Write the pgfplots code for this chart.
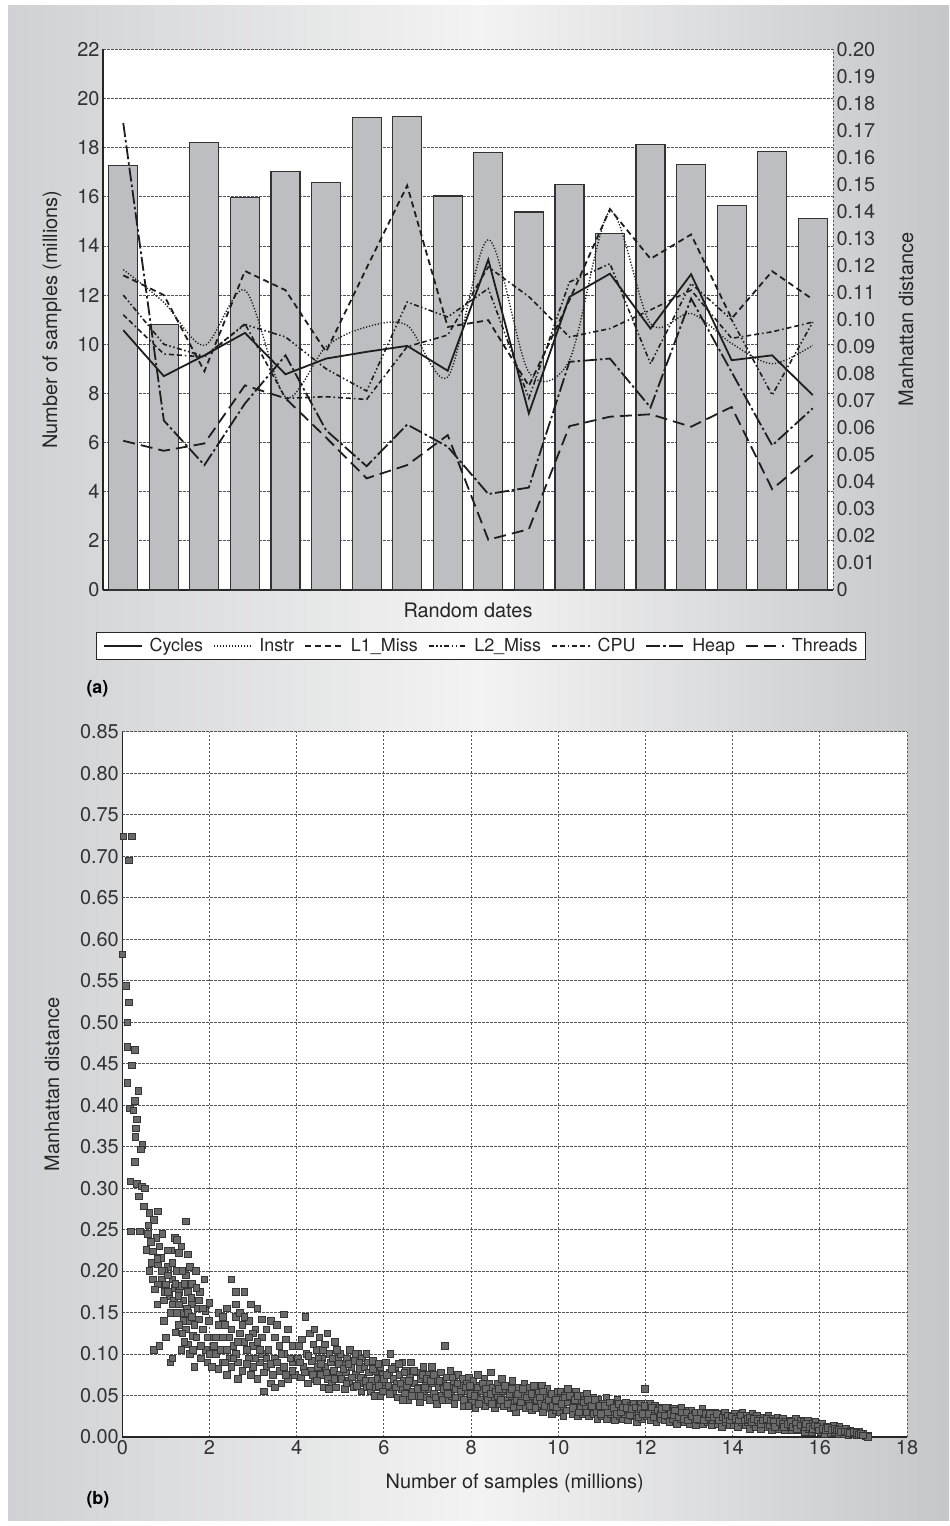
\documentclass[border=0pt]{standalone}
\usepackage{pgfplots}
\pgfplotsset{compat=1.18}
\usepackage{pgfplotstable}
\usepackage{fontspec}
\setmainfont{TeX Gyre Heros}
\definecolor{barfill}{HTML}{BCBEC1}
\definecolor{baredge}{HTML}{333333}
\definecolor{lineclr}{HTML}{1E1E1E}
\definecolor{gridclr}{HTML}{555555}
\definecolor{bgedge}{HTML}{D0D1D4}
\definecolor{bgmid}{HTML}{F3F3F3}
\definecolor{markfill}{HTML}{6A6A6A}
\definecolor{markedge}{HTML}{363636}

\pgfplotstableread{
x Cycles Instr L1 L2 CPU Heap Threads
0 0.0961 0.1185 0.1164 0.1091 0.1018 0.1727 0.0552
1 0.0791 0.1064 0.1091 0.0909 0.0873 0.0627 0.0515
2 0.0868 0.0905 0.0809 0.0864 0.0862 0.0462 0.0542
3 0.0951 0.1109 0.1180 0.0982 0.0985 0.0690 0.0757
4 0.0798 0.0714 0.1109 0.0936 0.0709 0.0868 0.0709
5 0.0856 0.0900 0.0881 0.0818 0.0715 0.0591 0.0564
6 0.0881 0.0973 0.1191 0.0736 0.0705 0.0458 0.0413
7 0.0903 0.0979 0.1496 0.1065 0.0900 0.0612 0.0462
8 0.0811 0.0788 0.0973 0.1010 0.0943 0.0530 0.0573
9 0.1222 0.1296 0.0998 0.1115 0.1195 0.0355 0.0186
10 0.0653 0.0806 0.0755 0.0709 0.1085 0.0379 0.0225
11 0.1084 0.0850 0.1072 0.1139 0.0936 0.0844 0.0606
12 0.1170 0.1400 0.1409 0.1207 0.0967 0.0856 0.0641
13 0.0967 0.0985 0.1225 0.0837 0.1036 0.0675 0.0650
14 0.1168 0.1023 0.1315 0.1134 0.1109 0.1078 0.0604
15 0.0850 0.0912 0.1004 0.1000 0.0931 0.0806 0.0677
16 0.0868 0.0837 0.1179 0.0721 0.0955 0.0535 0.0373
17 0.0721 0.0905 0.1075 0.0991 0.0991 0.0672 0.0499
}\linedata

\begin{document}
\begin{tikzpicture}[x=1bp,y=1bp,font=\fontsize{20}{24}\selectfont]
\fill[white] (0,0) rectangle (949,-1526);
\shade[left color=bgedge, right color=bgedge!95!black, middle color=bgmid] (8,-6) rectangle (949,-1520);

% ---------- (a) bars, left axis ----------
\begin{axis}[
  at={(103bp,-590bp)}, anchor=south west, scale only axis,
  width=730bp, height=540.7bp,
  xmin=-0.5, xmax=17.5, ymin=0, ymax=22,
  ytick={0,2,...,22}, xtick=\empty,
  axis x line*=bottom, axis y line*=left,
  axis line style={-, line width=1.3bp, black!85},
  axis background/.style={fill=white},
  ymajorgrids, grid style={dash pattern=on 2.5bp off 1.5bp, line width=0.8bp, gridclr},
  major tick length=0pt,
  /pgf/number format/assume math mode=true,
  tick label style={font=\fontsize{20}{24}\selectfont, text=black!80},
  xlabel={Random dates},
  xlabel style={at={(axis description cs:0.5,-0.037)}, anchor=center, font=\fontsize{20}{24}\selectfont, text=black!85},
  ylabel={Number of samples (millions)},
  ylabel style={at={(axis description cs:-0.0699,0.5)}, anchor=center, font=\fontsize{20}{24}\selectfont, text=black!85},
]
\addplot[ybar, bar width=29bp, fill=barfill, draw=baredge, line width=1.2bp] coordinates {
(0,17.26) (1,10.81) (2,18.22) (3,15.98) (4,17.02) (5,16.58) (6,19.23) (7,19.28) (8,16.03)
(9,17.79) (10,15.38) (11,16.49) (12,14.50) (13,18.12) (14,17.30) (15,15.65) (16,17.85) (17,15.10)};
\end{axis}

% ---------- (a) lines, right axis ----------
\begin{axis}[
  at={(103bp,-590bp)}, anchor=south west, scale only axis,
  width=730bp, height=540.7bp,
  xmin=-0.5, xmax=17.5, ymin=0, ymax=0.2,
  axis x line=none, axis y line*=right,
  y axis line style={-, dash pattern=on 2.5bp off 1.5bp, line width=0.9bp, gridclr},
  ytick={0,0.01,0.02,0.03,0.04,0.05,0.06,0.07,0.08,0.09,0.10,0.11,0.12,0.13,0.14,0.15,0.16,0.17,0.18,0.19,0.20},
  yticklabels={0,0.01,0.02,0.03,0.04,0.05,0.06,0.07,0.08,0.09,0.10,0.11,0.12,0.13,0.14,0.15,0.16,0.17,0.18,0.19,0.20},
  major tick length=0pt,
  tick label style={font=\fontsize{20}{24}\selectfont, text=black!80},
  ylabel={Manhattan distance},
  ylabel style={at={(axis description cs:1.1,0.5)}, anchor=center, rotate=0, font=\fontsize{20}{24}\selectfont, text=black!85},
  legend image code/.code={\draw[#1] (0bp,0bp) -- (38bp,0bp);},
  legend style={at={(0.518,-0.1036)}, anchor=center, draw=black!85, line width=1bp, fill=white,
    font=\fontsize{18}{21}\selectfont, inner xsep=6bp, inner ysep=4bp, text=black!85,
    /tikz/every odd column/.append style={column sep=5bp},
    /tikz/every even column/.append style={column sep=8bp}},
  legend columns=7,
]
\addplot[lineclr, line width=1.8bp] table[x=x,y=Cycles] {\linedata};
\addlegendentry{Cycles}
\addplot[lineclr, line width=1.4bp, dash pattern=on 1.2bp off 1.8bp, smooth] table[x=x,y=Instr] {\linedata};
\addlegendentry{Instr}
\addplot[lineclr, line width=1.8bp, dash pattern=on 6bp off 4bp] table[x=x,y=L1] {\linedata};
\addlegendentry{L1\_Miss}
\addplot[lineclr, line width=1.6bp, dash pattern=on 5bp off 2.5bp on 1.5bp off 2.5bp on 1.5bp off 2.5bp] table[x=x,y=L2] {\linedata};
\addlegendentry{L2\_Miss}
\addplot[lineclr, line width=1.6bp, dash pattern=on 5bp off 3bp on 5bp off 3bp on 1.5bp off 3bp] table[x=x,y=CPU] {\linedata};
\addlegendentry{CPU}
\addplot[lineclr, line width=1.8bp, dash pattern=on 14bp off 3bp on 2.5bp off 3bp] table[x=x,y=Heap] {\linedata};
\addlegendentry{Heap}
\addplot[lineclr, line width=1.8bp, dash pattern=on 12bp off 6bp] table[x=x,y=Threads] {\linedata};
\addlegendentry{Threads}
\end{axis}

\node[font=\bfseries\fontsize{18}{20}\selectfont, anchor=west] at (83,-689) {(a)};

% ---------- (b) scatter ----------
\begin{axis}[
  at={(122.3bp,-1437bp)}, anchor=south west, scale only axis,
  width=784.7bp, height=705.3bp,
  xmin=0, xmax=18, ymin=0, ymax=0.85,
  xtick={0,2,...,18},
  ytick={0,0.05,0.10,0.15,0.20,0.25,0.30,0.35,0.40,0.45,0.50,0.55,0.60,0.65,0.70,0.75,0.80,0.85},
  yticklabel style={/pgf/number format/.cd, fixed, fixed zerofill, precision=2},
  axis x line*=bottom, axis y line*=left,
  axis line style={-, line width=1.3bp, black!85},
  axis background/.style={fill=white},
  grid=major, grid style={dash pattern=on 2.5bp off 1.5bp, line width=0.8bp, gridclr},
  major tick length=0pt,
  /pgf/number format/assume math mode=true,
  tick label style={font=\fontsize{20}{24}\selectfont, text=black!80},
  clip=false,
  xlabel={Number of samples (millions)},
  xlabel style={at={(axis description cs:0.5,-0.0652)}, anchor=center, font=\fontsize{20}{24}\selectfont, text=black!85},
  ylabel={Manhattan distance},
  ylabel style={at={(axis description cs:-0.0896,0.5)}, anchor=center, font=\fontsize{20}{24}\selectfont, text=black!85},
]
\addplot[only marks, mark=square*, mark size=3.3bp, mark options={fill=markfill, draw=markedge, line width=0.6bp}] coordinates {
(0.02,0.724) (0.215,0.724) (0.154,0.695) (0,0.582) (0.077,0.544) (0.154,0.524) (0.115,0.5) (0.115,0.47) (0.291,0.467) (0.215,0.448) (0.115,0.427) (0.368,0.417) (0.291,0.405) (0.177,0.396) (0.25,0.394) (0.33,0.383) (0.31,0.372) (0.3,0.362) (0.46,0.352) (0.42,0.347) (0.28,0.332) (0.18,0.308) (0.33,0.305) (0.45,0.302) (0.52,0.3) (0.38,0.29) (0.5,0.278) (0.62,0.27) (0.82,0.272) (0.72,0.262) (0.6,0.255) (0.2,0.248) (0.4,0.248) (0.92,0.245) (0.78,0.24) (0.85,0.23) (0.55,0.226) (0.7,0.224) (0.88,0.216) (0.68,0.21) (0.82,0.208) (1.05,0.205) (0.62,0.2) (0.95,0.2) (0.7,0.19) (0.9,0.19) (1.15,0.19) (0.82,0.184) (1.0,0.184) (0.75,0.178) (1.2,0.18) (0.98,0.175) (1.3,0.175) (1.08,0.17) (1.18,0.165) (0.8,0.16) (0.95,0.165) (0.72,0.105) (0.85,0.11) (1.1,0.09) (1.0,0.12) (0.95,0.14) (1.1,0.15)
(1.45,0.26) (1.2,0.24) (1.25,0.238) (1.35,0.23) (1.12,0.225) (1.3,0.222) (1.5,0.22) (1.55,0.205) (1.25,0.2) (1.45,0.195) (1.68,0.2) (1.88,0.19) (1.6,0.185) (1.32,0.182) (1.5,0.175) (1.78,0.175) (1.4,0.165) (1.6,0.16) (1.72,0.155) (1.9,0.152) (2.0,0.162) (1.35,0.15) (1.55,0.14) (1.75,0.142) (1.45,0.13) (1.22,0.126) (1.62,0.122) (1.85,0.13) (1.5,0.112) (1.35,0.105) (1.92,0.105) (2.08,0.12) (1.95,0.09) (1.15,0.095) (1.28,0.17) (1.42,0.185) (1.38,0.2) (1.58,0.168) (1.65,0.135) (1.4,0.14) (1.48,0.155) (1.3,0.16) (1.7,0.12) (1.8,0.11) (1.98,0.14) (1.55,0.1) (1.8,0.095) (1.65,0.085)
(0.9,0.2) (1.05,0.195) (1.15,0.21) (1.22,0.185) (1.05,0.175) (1.15,0.16) (1.25,0.15) (1.3,0.135) (1.38,0.125) (1.5,0.15) (1.42,0.115) (1.6,0.145) (1.7,0.18) (1.75,0.165) (1.85,0.155) (1.95,0.12) (2.0,0.1) (1.62,0.105) (1.05,0.225) (0.8,0.215) (0.65,0.235) (0.58,0.245)
(2.2,0.15) (2.3,0.12) (2.4,0.155) (2.5,0.19) (2.6,0.175) (2.8,0.175) (2.95,0.16) (3.1,0.155) (2.6,0.145) (2.9,0.14) (3.3,0.13) (2.5,0.13) (2.7,0.125) (3.2,0.12) (2.8,0.115) (3.0,0.11) (3.5,0.12) (3.8,0.13) (3.7,0.148) (3.4,0.14) (2.4,0.105) (2.6,0.1) (2.9,0.095) (3.2,0.1) (3.5,0.095) (3.7,0.1) (2.5,0.085) (2.2,0.082) (2.75,0.08) (3.0,0.085) (3.3,0.085) (3.6,0.08) (3.9,0.09) (3.1,0.07) (3.4,0.065) (3.25,0.055) (3.8,0.07) (2.4,0.075) (2.15,0.1) (2.3,0.09) (2.1,0.11) (2.7,0.15) (3.05,0.13) (3.6,0.11) (3.9,0.11) (2.85,0.105) (3.35,0.105) (2.65,0.09) (3.15,0.09) (3.7,0.085) (2.55,0.11) (3.45,0.075) (2.95,0.075) (3.65,0.065) (3.95,0.075) (2.35,0.135) (3.0,0.125) (3.55,0.135) (2.75,0.135) (2.45,0.095) (3.85,0.095) (3.25,0.078) (3.75,0.118) (2.9,0.12) (2.2,0.135) (2.65,0.07) (3.5,0.06) (2.05,0.085)
(2.15,0.12) (2.25,0.105) (2.35,0.09) (2.55,0.095) (2.65,0.115) (2.85,0.088) (3.05,0.095) (3.15,0.105) (3.3,0.095) (3.4,0.088) (3.55,0.09) (3.65,0.1) (3.75,0.075) (3.9,0.08) (2.45,0.12) (2.6,0.16) (2.8,0.145) (3.2,0.142) (3.1,0.115) (2.3,0.145)
(4.02,0.095) (4.05,0.11) (4.1,0.072) (4.15,0.085) (4.2,0.145) (4.22,0.1) (4.25,0.065) (4.3,0.125) (4.32,0.08) (4.35,0.092) (4.4,0.13) (4.42,0.07) (4.45,0.105) (4.48,0.085)
(4.52,0.12) (4.55,0.075) (4.58,0.095) (4.6,0.105) (4.62,0.06) (4.66,0.085) (4.7,0.125) (4.72,0.07) (4.75,0.1) (4.78,0.09) (4.8,0.065) (4.85,0.08) (4.88,0.115) (4.9,0.06) (4.95,0.095) (4.98,0.075)
(5.0,0.1) (5.02,0.07) (5.05,0.088) (5.1,0.058) (5.12,0.078) (5.15,0.095) (5.2,0.068) (5.22,0.105) (5.25,0.085) (5.3,0.06) (5.32,0.092) (5.35,0.075) (5.4,0.1) (5.42,0.065) (5.45,0.082) (5.48,0.055)
(5.5,0.095) (5.52,0.072) (5.55,0.085) (5.6,0.06) (5.62,0.09) (5.65,0.078) (5.7,0.055) (5.72,0.068) (5.75,0.092) (5.8,0.08) (5.82,0.06) (5.85,0.07) (5.9,0.05) (5.92,0.085) (5.95,0.065) (5.98,0.075)
(6.0,0.07) (6.02,0.058) (6.05,0.09) (6.1,0.062) (6.12,0.078) (6.15,0.1) (6.2,0.055) (6.22,0.07) (6.25,0.085) (6.3,0.065) (6.32,0.048) (6.35,0.075) (6.4,0.058) (6.42,0.09) (6.45,0.068) (6.48,0.052)
(6.5,0.08) (6.52,0.062) (6.55,0.045) (6.6,0.072) (6.62,0.09) (6.65,0.055) (6.7,0.065) (6.72,0.05) (6.75,0.078) (6.8,0.06) (6.82,0.042) (6.85,0.07) (6.9,0.085) (6.92,0.055) (6.95,0.065) (6.98,0.048)
(7.0,0.075) (7.02,0.058) (7.05,0.045) (7.1,0.085) (7.12,0.065) (7.15,0.052) (7.2,0.07) (7.22,0.04) (7.25,0.06) (7.3,0.078) (7.32,0.05) (7.35,0.065) (7.4,0.11) (7.42,0.055) (7.45,0.072) (7.48,0.045)
(7.5,0.062) (7.52,0.08) (7.55,0.05) (7.6,0.068) (7.62,0.04) (7.65,0.058) (7.7,0.075) (7.72,0.048) (7.75,0.062) (7.8,0.07) (7.82,0.038) (7.85,0.055) (7.9,0.065) (7.92,0.045) (7.95,0.072) (7.98,0.052)
(8.0,0.06) (8.02,0.042) (8.05,0.068) (8.1,0.035) (8.12,0.052) (8.15,0.075) (8.2,0.062) (8.22,0.045) (8.25,0.055) (8.3,0.07) (8.32,0.038) (8.35,0.05) (8.4,0.065) (8.42,0.042) (8.45,0.078) (8.48,0.055)
(8.5,0.06) (8.52,0.045) (8.55,0.035) (8.6,0.065) (8.62,0.05) (8.65,0.04) (8.7,0.07) (8.72,0.055) (8.75,0.038) (8.8,0.058) (8.82,0.045) (8.85,0.062) (8.9,0.035) (8.92,0.05) (8.95,0.068) (8.98,0.042)
(9.0,0.055) (9.02,0.03) (9.05,0.045) (9.1,0.06) (9.12,0.038) (9.15,0.05) (9.2,0.042) (9.22,0.065) (9.25,0.035) (9.3,0.055) (9.32,0.045) (9.35,0.06) (9.4,0.032) (9.42,0.05) (9.45,0.04) (9.48,0.058)
(9.5,0.045) (9.52,0.035) (9.55,0.055) (9.6,0.04) (9.62,0.062) (9.65,0.03) (9.7,0.05) (9.72,0.042) (9.75,0.058) (9.8,0.035) (9.82,0.048) (9.85,0.028) (9.9,0.052) (9.92,0.04) (9.95,0.032) (9.98,0.055)
(10.0,0.045) (10.02,0.03) (10.05,0.055) (10.1,0.038) (10.12,0.025) (10.15,0.05) (10.2,0.042) (10.22,0.058) (10.25,0.032) (10.3,0.048) (10.32,0.028) (10.35,0.04) (10.4,0.055) (10.42,0.035) (10.45,0.025) (10.48,0.045)
(10.5,0.05) (10.52,0.035) (10.55,0.028) (10.6,0.045) (10.62,0.038) (10.65,0.052) (10.7,0.025) (10.72,0.042) (10.75,0.032) (10.8,0.048) (10.82,0.028) (10.85,0.038) (10.9,0.022) (10.92,0.045) (10.95,0.032) (10.98,0.04)
(11.0,0.025) (11.02,0.04) (11.05,0.032) (11.1,0.048) (11.12,0.022) (11.15,0.036) (11.2,0.028) (11.22,0.042) (11.25,0.03) (11.3,0.02) (11.32,0.038) (11.35,0.045) (11.4,0.025) (11.42,0.034) (11.45,0.04) (11.48,0.022)
(11.5,0.035) (11.52,0.028) (11.55,0.042) (11.6,0.02) (11.62,0.032) (11.65,0.038) (11.7,0.025) (11.72,0.04) (11.75,0.03) (11.8,0.018) (11.82,0.035) (11.85,0.028) (11.9,0.04) (11.92,0.022) (11.95,0.032) (11.98,0.058)
(12.0,0.035) (12.02,0.025) (12.05,0.03) (12.1,0.04) (12.12,0.02) (12.15,0.032) (12.2,0.026) (12.22,0.038) (12.25,0.018) (12.3,0.03) (12.32,0.035) (12.35,0.022) (12.4,0.028) (12.42,0.036) (12.45,0.02) (12.48,0.03)
(12.5,0.025) (12.52,0.035) (12.55,0.018) (12.6,0.03) (12.62,0.022) (12.65,0.034) (12.7,0.026) (12.72,0.016) (12.75,0.03) (12.8,0.022) (12.82,0.035) (12.85,0.028) (12.9,0.018) (12.92,0.03) (12.95,0.024) (12.98,0.032)
(13.0,0.026) (13.02,0.016) (13.05,0.032) (13.1,0.022) (13.12,0.028) (13.15,0.014) (13.2,0.03) (13.22,0.02) (13.25,0.026) (13.3,0.034) (13.32,0.016) (13.35,0.024) (13.4,0.028) (13.42,0.018) (13.45,0.03) (13.48,0.022)
(13.5,0.026) (13.52,0.014) (13.55,0.02) (13.6,0.03) (13.62,0.024) (13.65,0.016) (13.7,0.028) (13.72,0.02) (13.75,0.012) (13.8,0.025) (13.82,0.03) (13.85,0.018) (13.9,0.022) (13.92,0.014) (13.95,0.026) (13.98,0.02)
(14.0,0.024) (14.02,0.015) (14.05,0.028) (14.1,0.02) (14.12,0.012) (14.15,0.025) (14.2,0.018) (14.22,0.03) (14.25,0.022) (14.3,0.014) (14.32,0.026) (14.35,0.018) (14.4,0.01) (14.42,0.022) (14.45,0.028) (14.48,0.016)
(14.5,0.02) (14.52,0.012) (14.55,0.026) (14.6,0.018) (14.62,0.022) (14.65,0.01) (14.7,0.024) (14.72,0.016) (14.75,0.02) (14.8,0.012) (14.82,0.026) (14.85,0.018) (14.9,0.008) (14.92,0.022) (14.95,0.014) (14.98,0.02)
(15.0,0.016) (15.02,0.024) (15.05,0.01) (15.1,0.02) (15.12,0.014) (15.15,0.022) (15.2,0.008) (15.22,0.018) (15.25,0.012) (15.3,0.02) (15.32,0.015) (15.35,0.008) (15.4,0.018) (15.42,0.012) (15.45,0.022) (15.48,0.014)
(15.5,0.016) (15.52,0.008) (15.55,0.02) (15.6,0.012) (15.62,0.018) (15.65,0.006) (15.7,0.014) (15.72,0.02) (15.75,0.01) (15.8,0.016) (15.82,0.006) (15.85,0.012) (15.9,0.018) (15.92,0.008) (15.95,0.014) (15.98,0.01)
(16.0,0.012) (16.02,0.006) (16.05,0.016) (16.1,0.01) (16.12,0.004) (16.15,0.013) (16.2,0.008) (16.22,0.012) (16.25,0.005) (16.3,0.01) (16.32,0.014) (16.35,0.006) (16.4,0.01) (16.42,0.004) (16.45,0.012) (16.48,0.007)
(16.5,0.009) (16.55,0.004) (16.6,0.01) (16.62,0.006) (16.65,0.002) (16.7,0.008) (16.75,0.004) (16.8,0.007) (16.85,0.003) (16.9,0.006) (16.95,0.002) (17.0,0.004) (17.05,0.001) (17.1,0.002) (17.1,0.0)
(4.07,0.09) (4.12,0.118) (4.18,0.078) (4.27,0.098) (4.37,0.075) (4.38,0.112) (4.46,0.068) (4.5,0.095)
(4.56,0.088) (4.64,0.112) (4.68,0.078) (4.74,0.058) (4.82,0.095) (4.86,0.07) (4.92,0.105) (4.97,0.088)
(5.07,0.082) (5.14,0.065) (5.18,0.088) (5.27,0.072) (5.34,0.1) (5.38,0.062) (5.44,0.09) (5.47,0.072)
(5.57,0.068) (5.6,0.1) (5.67,0.062) (5.74,0.082) (5.78,0.05) (5.87,0.088) (5.88,0.062) (5.97,0.055)
(6.07,0.075) (6.14,0.052) (6.18,0.082) (6.27,0.06) (6.34,0.088) (6.38,0.065) (6.44,0.045) (6.47,0.078)
(6.57,0.068) (6.64,0.05) (6.68,0.08) (6.77,0.058) (6.84,0.05) (6.88,0.075) (6.94,0.06) (6.97,0.07)
(7.07,0.068) (7.14,0.075) (7.18,0.048) (7.27,0.068) (7.34,0.045) (7.38,0.058) (7.44,0.062) (7.47,0.052)
(7.57,0.072) (7.64,0.048) (7.68,0.065) (7.77,0.055) (7.84,0.045) (7.88,0.06) (7.94,0.038) (7.97,0.062)
(8.07,0.05) (8.14,0.06) (8.18,0.04) (8.27,0.065) (8.34,0.058) (8.38,0.045) (8.44,0.052) (8.47,0.04)
(8.57,0.055) (8.64,0.058) (8.68,0.045) (8.77,0.062) (8.84,0.04) (8.88,0.052) (8.94,0.058) (8.97,0.036)
(9.07,0.052) (9.14,0.042) (9.18,0.058) (9.27,0.048) (9.34,0.038) (9.38,0.052) (9.44,0.062) (9.47,0.035)
(9.57,0.048) (9.64,0.055) (9.68,0.038) (9.77,0.045) (9.84,0.052) (9.88,0.038) (9.94,0.045) (9.97,0.036)
(10.07,0.04) (10.14,0.048) (10.18,0.032) (10.27,0.05) (10.34,0.035) (10.38,0.045) (10.44,0.05) (10.47,0.03)
(10.57,0.042) (10.64,0.03) (10.68,0.045) (10.77,0.038) (10.84,0.045) (10.88,0.03) (10.94,0.038) (10.97,0.028)
(11.07,0.038) (11.14,0.03) (11.18,0.042) (11.27,0.035) (11.34,0.028) (11.38,0.04) (11.44,0.03) (11.47,0.036)
(11.57,0.035) (11.64,0.026) (11.68,0.034) (11.77,0.036) (11.84,0.024) (11.88,0.034) (11.94,0.028) (11.97,0.038)
(12.07,0.028) (12.14,0.036) (12.18,0.024) (12.27,0.032) (12.34,0.028) (12.38,0.034) (12.44,0.026) (12.47,0.036)
(12.57,0.028) (12.64,0.026) (12.68,0.032) (12.77,0.024) (12.84,0.03) (12.88,0.022) (12.94,0.03) (12.97,0.02)
(13.07,0.025) (13.14,0.03) (13.18,0.022) (13.27,0.03) (13.34,0.02) (13.38,0.028) (13.44,0.024) (13.47,0.028)
(13.57,0.024) (13.64,0.028) (13.68,0.02) (13.77,0.024) (13.84,0.022) (13.88,0.026) (13.94,0.02) (13.97,0.025)
(14.07,0.022) (14.14,0.02) (14.18,0.026) (14.27,0.02) (14.34,0.022) (14.38,0.024) (14.44,0.018) (14.47,0.022)
(14.57,0.02) (14.64,0.016) (14.68,0.02) (14.77,0.022) (14.84,0.014) (14.88,0.02) (14.94,0.018) (14.97,0.012)
(15.07,0.018) (15.14,0.016) (15.18,0.012) (15.27,0.016) (15.34,0.018) (15.38,0.012) (15.44,0.016) (15.47,0.01)
(15.57,0.014) (15.64,0.012) (15.68,0.016) (15.77,0.012) (15.84,0.01) (15.88,0.014) (15.94,0.012) (15.97,0.008)
(16.07,0.01) (16.14,0.008) (16.18,0.011) (16.27,0.009) (16.34,0.01) (16.38,0.008) (16.44,0.009) (16.47,0.006)
(16.57,0.007) (16.64,0.006) (16.68,0.005) (16.77,0.006) (16.84,0.005) (16.88,0.003) (16.94,0.004) (16.98,0.002)
};
\end{axis}

\node[font=\bfseries\fontsize{18}{20}\selectfont, anchor=west] at (83,-1500) {(b)};
\end{tikzpicture}
\end{document}
